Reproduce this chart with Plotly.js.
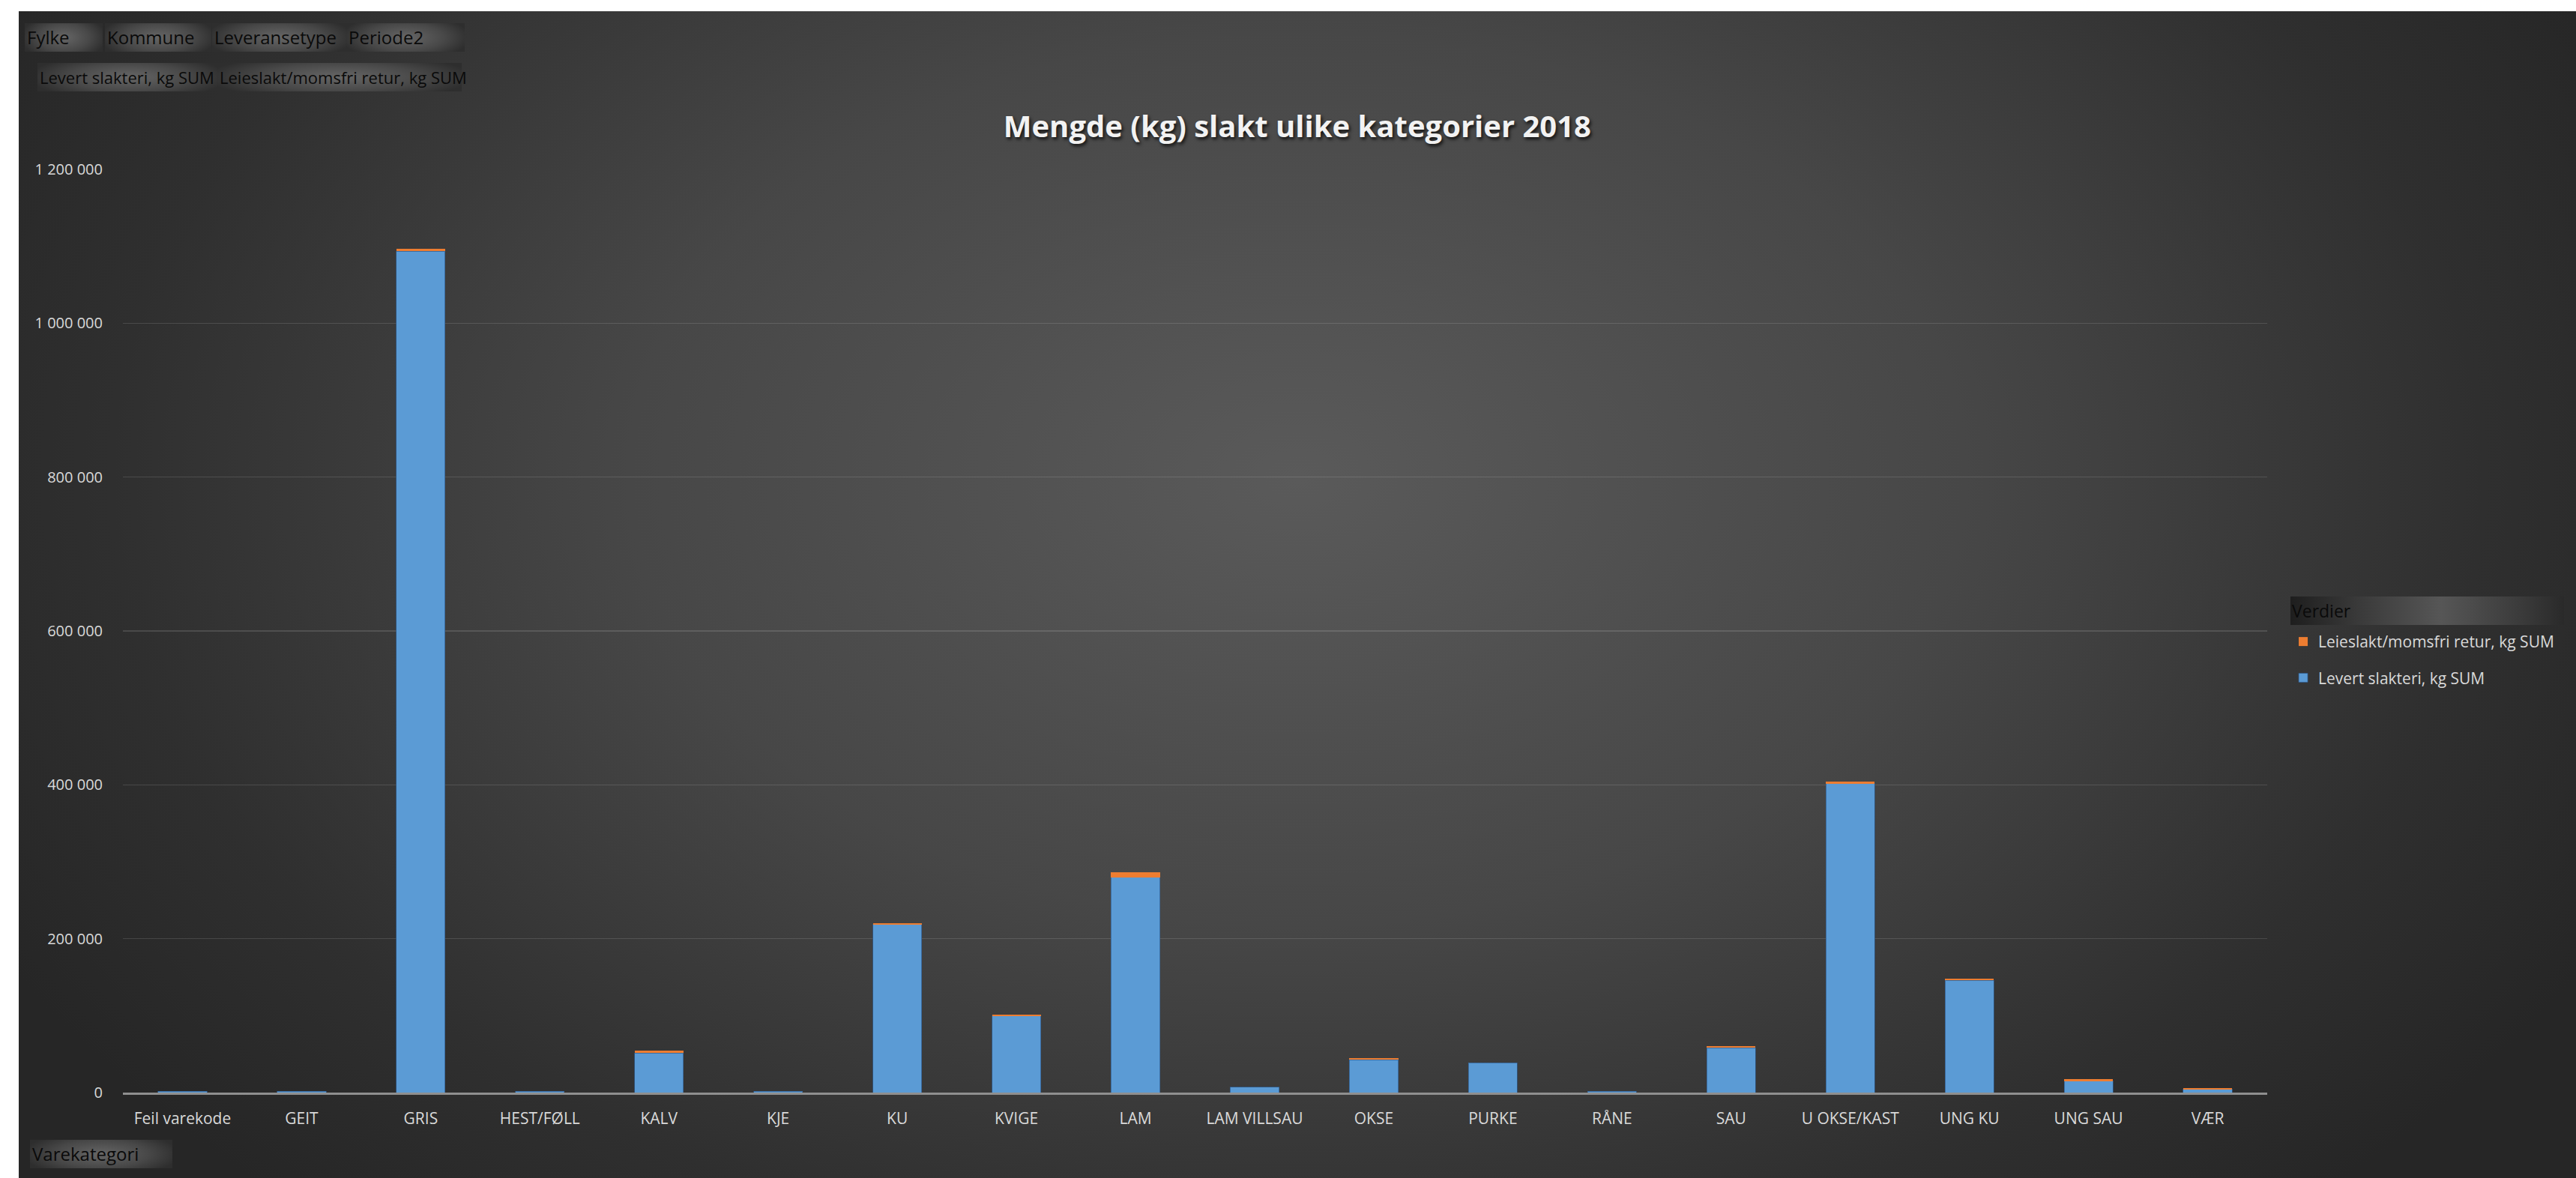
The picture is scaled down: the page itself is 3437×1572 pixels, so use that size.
<!DOCTYPE html>
<html><head><meta charset="utf-8">
<script src="https://cdn.plot.ly/plotly-3.0.1.min.js"></script>
<style>
html,body{margin:0;padding:0;background:#fff;width:3437px;height:1572px;overflow:hidden;}
#bg{position:absolute;left:25px;top:15px;width:3412px;height:1557px;z-index:0;
 background:radial-gradient(ellipse 58% 85% at 50% 40%, #5a5a5a 0%, #474747 45%, #2f2f2f 80%, #262626 100%);}
#chart{position:absolute;left:0;top:0;width:3437px;height:1572px;z-index:2;}
.btn{position:absolute;height:38px;line-height:38px;font-family:"Open Sans",sans-serif;font-size:22px;color:#0a0a0a;
 background:radial-gradient(ellipse 55% 80% at 50% 50%, #666 0%, #484848 60%, #2e2e2e 100%);white-space:nowrap;box-sizing:border-box;padding-left:3px;z-index:3;}
.r1{font-size:24px;}
#verdier{position:absolute;left:3056px;top:796px;width:365px;height:38px;line-height:38px;z-index:3;box-sizing:border-box;padding-left:2px;
 font-family:"Open Sans",sans-serif;font-size:23px;color:#0a0a0a;
 background:linear-gradient(to right,#1e1e1e 0%,#3a3a3a 25%,#565656 55%,#3a3a3a 85%,#2a2a2a 100%);}
</style></head>
<body>
<div id="bg"></div>
<div id="chart"></div>
<div id="verdier"></div>
<div class="btn r1" style="left:33px;top:31px;width:104px;">Fylke</div>
<div class="btn r1" style="left:140px;top:31px;width:142px;">Kommune</div>
<div class="btn r1" style="left:283px;top:31px;width:180px;">Leveransetype</div>
<div class="btn r1" style="left:462px;top:31px;width:158px;">Periode2</div>
<div class="btn" style="left:50px;top:84px;width:242px;">Levert slakteri, kg SUM</div>
<div class="btn" style="left:290px;top:84px;width:326px;">Leieslakt/momsfri retur, kg SUM</div>
<div class="btn" style="left:40px;top:1521px;width:190px;font-size:24px;">Varekategori</div>
<script>
const categories = ["Feil varekode","GEIT","GRIS","HEST/FØLL","KALV","KJE","KU","KVIGE","LAM","LAM VILLSAU","OKSE","PURKE","RÅNE","SAU","U OKSE/KAST","UNG KU","UNG SAU","VÆR"];
const levertSlakteri = [1500,1800,1093500,1500,51500,1500,218500,99500,280000,7200,42500,38800,1800,58000,401500,146000,15000,4000];
const leieslakt = [0,0,3000,0,3000,0,2000,2000,6000,0,2000,300,0,2300,2500,2000,2200,1500];
const seriesNames = ["Levert slakteri, kg SUM","Leieslakt/momsfri retur, kg SUM"];
const chartTitle = "Mengde (kg) slakt ulike kategorier 2018";
const legendTitle = "Verdier";
const yTicks = [0,200000,400000,600000,800000,1000000,1200000];

document.getElementById('verdier').textContent = legendTitle;
const fontFam = '"Open Sans", "DejaVu Sans", sans-serif';
const traces = [
 {type:'bar', x:categories, y:levertSlakteri, name:seriesNames[0], legendgroup:'a', legendrank:2,
  marker:{color:'#5b9bd5', line:{color:'rgba(45,90,140,0.7)', width:1}}},
 {type:'bar', x:categories, y:leieslakt, name:seriesNames[1], legendgroup:'b', legendrank:1,
  marker:{color:'#ed7d31', line:{width:0}}}
];
const layout = {
 width:3437, height:1572,
 paper_bgcolor:'rgba(0,0,0,0)', plot_bgcolor:'rgba(0,0,0,0)',
 margin:{l:164, r:412, t:226, b:114, pad:0},
 barmode:'stack', bargap:0.59,
 separators:', ',
 font:{family:fontFam, color:'#d9d9d9', size:21},
 title:{text:chartTitle, xref:'container', yref:'container', x:0.5036, y:0.8925, xanchor:'center', yanchor:'middle',
  font:{family:fontFam, size:40, color:'#f2f2f2', weight:700, shadow:'2px 3px 4px rgba(0,0,0,0.75)'}},
 xaxis:{showgrid:false, showline:true, linecolor:'#8f8f8f', linewidth:2.5, ticks:'outside', ticklen:14, tickcolor:'rgba(0,0,0,0)',
  tickfont:{size:21, color:'#d9d9d9'}, zeroline:false, fixedrange:true, tickangle:0},
 yaxis:{range:[0,1200000], tickvals:yTicks, tickformat:',d', showgrid:true, gridcolor:'rgba(255,255,255,0.13)', gridwidth:1.5,
  zeroline:false, showline:false, ticks:'outside', ticklen:22, tickcolor:'rgba(0,0,0,0)', tickfont:{size:20, color:'#d9d9d9'}},
 showlegend:true,
 legend:{x:1.0098, xanchor:'left', xref:'paper', y:0.5049, yanchor:'top', traceorder:'grouped', tracegroupgap:18,
  bgcolor:'rgba(0,0,0,0)', borderwidth:0, font:{size:21, color:'#d9d9d9'}}
};
Plotly.newPlot('chart', traces, layout, {staticPlot:true});
</script>
</body></html>
